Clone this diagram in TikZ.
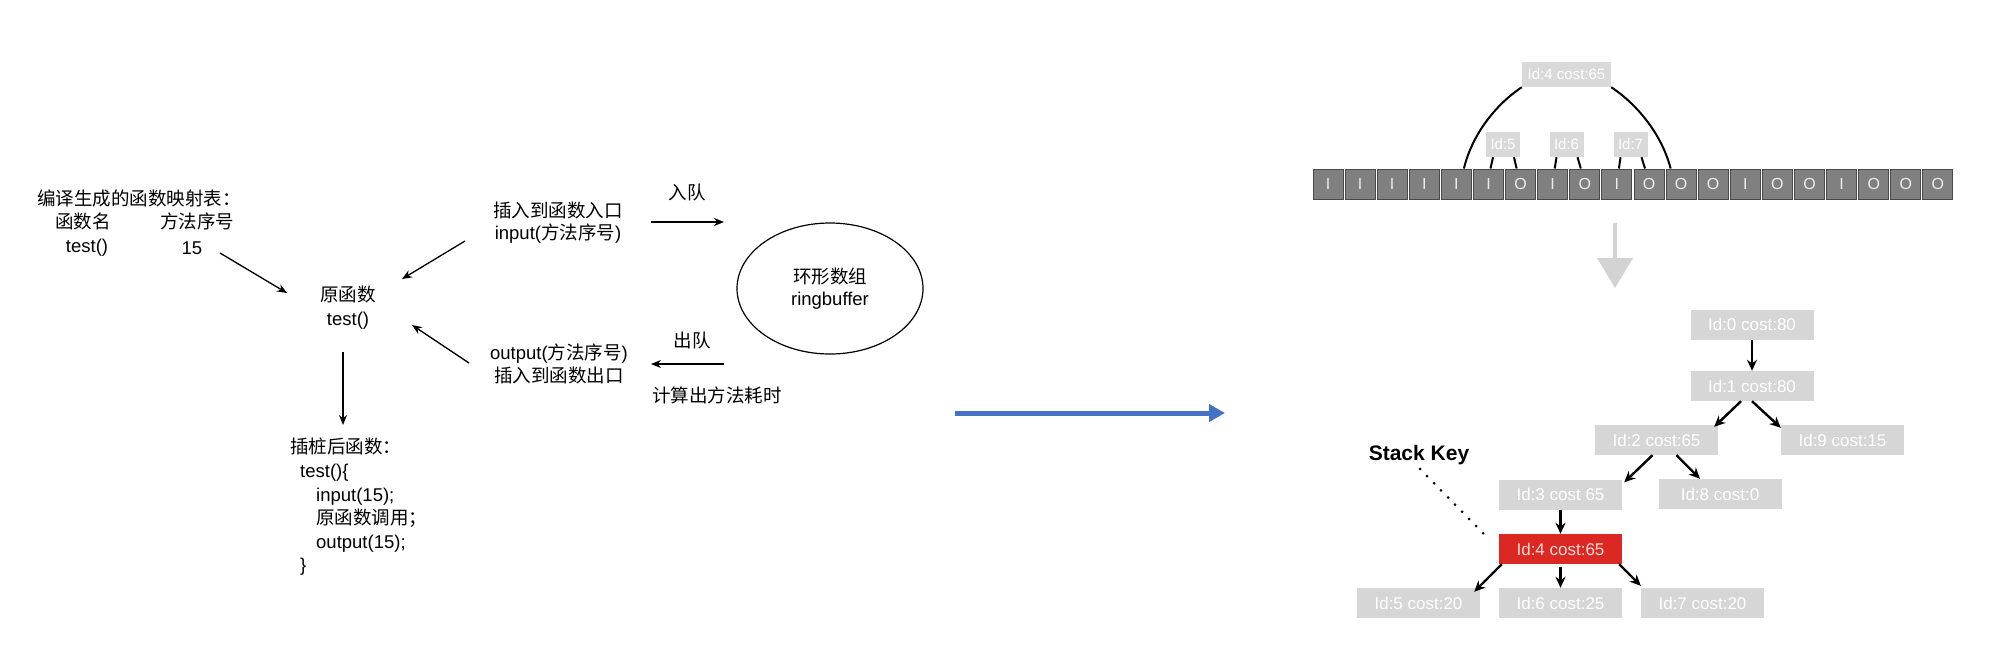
\documentclass[tikz,border=0pt]{standalone}
\usepackage{fontspec}
\setmainfont{Liberation Sans}
\newfontfamily\cjk{Noto Sans CJK SC}
\usetikzlibrary{arrows.meta,shapes.geometric}
\definecolor{boxgray}{HTML}{D6D6D6}
\definecolor{lblgray}{HTML}{D9D9D9}
\definecolor{cellgray}{HTML}{808080}
\definecolor{celledge}{HTML}{4A4A4A}
\definecolor{celltext}{HTML}{EDEDED}
\definecolor{keyred}{HTML}{DC2823}
\definecolor{keytext}{HTML}{FADCD7}
\definecolor{blueA}{HTML}{4472C4}
\definecolor{arrgray}{HTML}{D3D3D3}
\tikzset{
  txt/.style={inner sep=0pt, font=\fontsize{18.5}{22.5}\selectfont, align=center},
  arr/.style={line width=1.3pt, -{Stealth[length=10pt,width=8pt]}},
  tbox/.style={rectangle, fill=boxgray, text=white, minimum width=123pt, minimum height=30pt, inner sep=0pt, font=\fontsize{17}{20}\selectfont},
  tarr/.style={line width=2.4pt, -{Stealth[length=11pt,width=10pt]}},
  cellbox/.style={rectangle, draw=celledge, fill=cellgray, line width=1pt, minimum width=30pt, minimum height=30pt, inner sep=0pt, text=celltext, font=\fontsize{16}{18}\selectfont},
  lbl/.style={rectangle, fill=lblgray, text=white, minimum height=25pt, inner sep=3pt, font=\fontsize{15}{17}\selectfont},
  link/.style={line width=2pt, black},
  dotline/.style={line width=3pt, dash pattern=on 0pt off 10pt, line cap=round},
}
\begin{document}
\begin{tikzpicture}[x=1pt,y=-1pt]
\useasboundingbox (0,0) rectangle (2000,657);
\fill[white] (0,0) rectangle (2000,657);

% ---------- left part ----------
\node[txt] (title) at (139,198) {\cjk 编译生成的函数映射表：};
\node[txt] (h1) at (83,221) {\cjk 函数名};
\node[txt] (h2) at (197,221) {\cjk 方法序号};
\node[txt] (r1) at (87,248) {test()};
\node[txt] (r2) at (192,248) {15};

\node[txt, font=\fontsize{18.5}{24}\selectfont] (orig) at (348,308) {{\cjk 原函数}\\test()};

\node[txt, align=left, anchor=west, font=\fontsize{18.5}{23.6}\selectfont] (code) at (290,507)
  {{\cjk 插桩后函数：}\\\hspace*{10pt}test()\{\\\hspace*{26pt}input(15);\\\hspace*{26pt}{\cjk 原函数调用；}\\\hspace*{26pt}output(15);\\\hspace*{10pt}\}};

\node[txt] (inp) at (558,222.5) {{\cjk 插入到函数入口}\\input({\cjk 方法序号})};
\node[txt] (outp) at (559,364) {output({\cjk 方法序号})\\{\cjk 插入到函数出口}};
\node[txt] (enq) at (687,192) {\cjk 入队};
\node[txt] (deq) at (692,340) {\cjk 出队};
\node[txt] (calc) at (717,395) {\cjk 计算出方法耗时};

\node[txt, draw, ellipse, minimum width=186pt, minimum height=131pt, line width=1.2pt] (rb) at (830,288.5) {{\cjk 环形数组}\\ringbuffer};

\coordinate (a1s) at (220,253); \coordinate (a1e) at (287,293);
\coordinate (a2s) at (465,241); \coordinate (a2e) at (402,279);
\coordinate (a3s) at (469,363); \coordinate (a3e) at (412,325);
\coordinate (a4s) at (343,352); \coordinate (a4e) at (343,425);
\coordinate (a5s) at (651,222); \coordinate (a5e) at (724,222);
\coordinate (a6s) at (724,364); \coordinate (a6e) at (651,364);
\draw[arr] (a1s) -- (a1e);
\draw[arr] (a2s) -- (a2e);
\draw[arr] (a3s) -- (a3e);
\draw[arr] (a4s) -- (a4e);
\draw[arr] (a5s) -- (a5e);
\draw[arr] (a6s) -- (a6e);

% ---------- blue arrow ----------
\coordinate (b1) at (955,413); \coordinate (b2) at (1225,413);
\draw[line width=5pt, blueA, -{Triangle[length=16pt,width=17pt]}] (b1) -- (b2);

% ---------- array ----------
\foreach \k/\t in {1/I,2/I,3/I,4/I,5/I,6/I,7/O,8/I,9/O,10/I,11/O,12/O,13/O,14/I,15/O,16/O,17/I,18/O,19/O,20/O} {
  \node[cellbox] (c\k) at ({1328+32.1*(\k-1)},184) {\t};
}
\node[lbl, minimum width=89pt] (t4) at (1566.5,74.5) {Id:4 cost:65};
\node[lbl, minimum width=34pt] (t5) at (1503,144.5) {Id:5};
\node[lbl, minimum width=34pt] (t6) at (1566.5,144.5) {Id:6};
\node[lbl, minimum width=34pt] (t7) at (1630.5,144.5) {Id:7};

\draw[link] ([xshift=-10pt]t5.south) -- ([xshift=2pt]c6.north);
\draw[link] ([xshift=11pt]t5.south) -- ([xshift=-4pt]c7.north);
\draw[link] ([xshift=-10pt]t6.south) -- ([xshift=2pt]c8.north);
\draw[link] ([xshift=11pt]t6.south) -- ([xshift=-4pt]c9.north);
\draw[link] ([xshift=-10pt]t7.south) -- ([xshift=2pt]c10.north);
\draw[link] ([xshift=11pt]t7.south) -- ([xshift=-4pt]c11.north);

\draw[link] (t4.south west) .. controls (1495,105) and (1472,135) .. ([xshift=-8pt]c5.north east);
\draw[link] (t4.south east) .. controls (1638,105) and (1662,135) .. ([xshift=5pt]c12.north west);

\coordinate (g1) at (1615,223); \coordinate (g2) at (1615,288);
\draw[line width=4pt, arrgray, -{Triangle[length=30pt,width=35pt]}] (g1) -- (g2);

% ---------- tree ----------
\node[tbox] (n0) at (1752,324.5) {Id:0 cost:80};
\node[tbox] (n1) at (1752,386) {Id:1 cost:80};
\node[tbox] (n2) at (1656.5,440) {Id:2 cost:65};
\node[tbox] (n9) at (1842.5,440) {Id:9 cost:15};
\node[tbox] (n3) at (1560.5,494.5) {Id:3 cost 65};
\node[tbox] (n8) at (1720,494) {Id:8 cost:0};
\node[tbox, fill=keyred, text=keytext] (n4) at (1560.5,549) {Id:4 cost:65};
\node[tbox] (n5) at (1418.5,603) {Id:5 cost:20};
\node[tbox] (n6) at (1560.5,603) {Id:6 cost:25};
\node[tbox] (n7) at (1702.5,603) {Id:7 cost:20};

\draw[tarr] (n0.south) -- (n1.north);
\draw[tarr] ([xshift=-11pt]n1.south) -- ([xshift=-4pt,yshift=-2pt]n2.north east);
\draw[tarr] (n1.south) -- ([yshift=-3pt]n9.north west);
\draw[tarr] ([xshift=-4pt]n2.south) -- ([xshift=2pt,yshift=-3pt]n3.north east);
\draw[tarr] ([xshift=20pt]n2.south) -- ([xshift=-20pt]n8.north);
\draw[tarr] (n3.south) -- (n4.north);
\draw[tarr] ([xshift=3pt]n4.south west) -- ([xshift=-6pt,yshift=-4pt]n5.north east);
\draw[tarr] ([yshift=-3pt]n4.south) -- (n6.north);
\draw[tarr] ([xshift=-3pt]n4.south east) -- ([yshift=2pt]n7.north west);

\node[inner sep=0pt, font=\bfseries\fontsize{21}{24}\selectfont] (sk) at (1419,455) {Stack Key};
\draw[dotline] ([xshift=1pt,yshift=-4pt]sk.south) -- ([xshift=-11pt,yshift=11pt]n4.west);
\end{tikzpicture}
\end{document}
